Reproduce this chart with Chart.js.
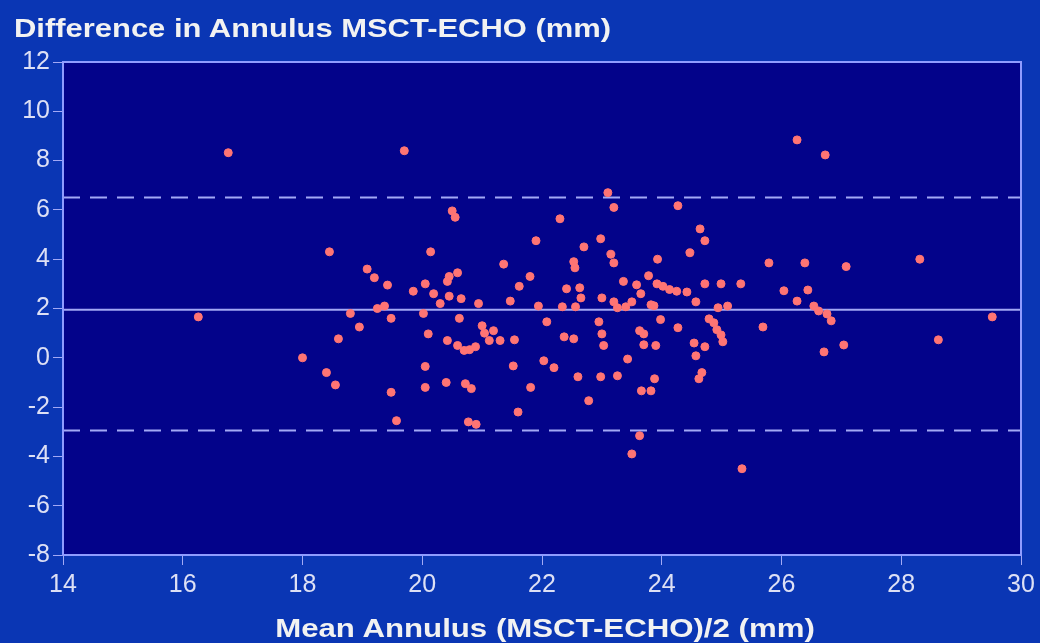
<!DOCTYPE html>
<html lang="en">
<head>
    <meta charset="UTF-8">
    <title>Difference in Annulus MSCT-ECHO</title>
    <script src="https://cdn.jsdelivr.net/npm/chart.js"></script>
    <style>
        body {
            margin: 0;
            background: #0a36b4;
        }
        #wrap {
            position: relative;
            width: 1040px;
            height: 643px;
        }
        .label {
            position: absolute;
            font-family: Arial, "Liberation Sans", sans-serif;
            font-weight: bold;
            font-size: 26px;
            line-height: 30px;
            color: #f2f2f2;
            white-space: nowrap;
        }
        #title {
            left: 14px;
            top: 13px;
            transform: scaleX(1.19);
            transform-origin: left center;
        }
        #xTitle {
            left: 545px;
            top: 613px;
            transform: translateX(-50%) scaleX(1.2);
        }
    </style>
</head>
<body>
    <div id="wrap">
        <canvas id="baChart"></canvas>
        <div id="title" class="label">Difference in Annulus MSCT-ECHO (mm)</div>
        <div id="xTitle" class="label">Mean Annulus (MSCT-ECHO)/2 (mm)</div>
    </div>

    <script>
        // mean annulus (x) and difference MSCT-ECHO (y)
        const meanAnnulus = [
            16.76, 19.70, 16.26, 18.45, 18.00, 18.40, 18.55, 18.60, 18.80, 18.95,
            19.08, 19.20, 19.25, 19.37, 19.42, 19.48, 19.48, 19.57, 19.85, 20.02,
            20.05, 20.14, 20.10, 20.05, 20.05, 20.19, 20.30, 20.42, 20.45, 20.50,
            20.55, 20.59, 20.45, 20.42, 20.40, 20.62, 20.65, 20.59, 20.70, 20.79,
            20.72, 20.82, 20.77, 20.90, 20.89, 20.94, 21.00, 21.04, 21.12, 21.19,
            21.30, 21.36, 21.47, 21.54, 21.52, 21.60, 21.62, 21.80, 21.81, 21.90,
            21.94, 22.03, 22.08, 22.20, 22.30, 22.34, 22.37, 22.41, 22.53, 22.55,
            22.56, 22.53, 22.60, 22.70, 22.65, 22.63, 22.78, 22.95, 22.98, 23.00,
            23.00, 23.03, 22.98, 23.10, 23.20, 23.15, 23.20, 23.20, 23.26, 23.26,
            23.40, 23.36, 23.43, 23.50, 23.50, 23.58, 23.63, 23.65, 23.63, 23.66,
            23.70, 23.70, 23.78, 23.82, 23.82, 23.88, 23.90, 23.87, 23.92, 23.93,
            23.98, 24.02, 24.13, 24.27, 24.25, 24.27, 24.42, 24.47, 24.57, 24.54,
            24.57, 24.62, 24.64, 24.67, 24.72, 24.72, 24.72, 24.79, 24.87, 24.94,
            24.92, 24.99, 25.02, 24.99, 25.10, 25.32, 25.34, 25.69, 25.79, 26.04,
            26.26, 26.26, 26.39, 26.44, 26.54, 26.62, 26.73, 26.71, 26.76, 26.83,
            27.08, 27.04, 28.31, 28.62, 29.52
        ];
        const difference = [
            8.32, 8.40, 1.66, 4.30, 0.00, -0.60, -1.10, 0.77, 1.80, 1.25,
            3.60, 3.25, 2.00, 2.10, 2.95, 1.60, -1.40, -2.55, 2.70, 1.80,
            3.00, 4.30, 0.97, -0.35, -1.20, 2.60, 2.20, 3.10, 3.30, 5.96,
            5.70, 3.45, 2.50, 0.70, -1.00, 1.60, 2.40, 0.50, 0.30, 0.33,
            -1.05, -1.25, -2.60, -2.70, 0.45, 2.20, 1.30, 1.00, 0.70, 1.10,
            0.70, 3.80, 2.30, 0.73, -0.33, -2.20, 2.90, 3.30, -1.20, 4.75,
            2.10, -0.12, 1.46, -0.40, 5.64, 2.07, 0.85, 2.80, 3.90, 3.65,
            2.07, 0.77, -0.77, 4.50, 2.43, 2.84, -1.74, 1.46, 4.83, 2.43,
            0.97, 0.50, -0.77, 6.70, 6.10, 4.20, 3.85, 2.27, 2.03, -0.73,
            2.07, 3.10, -0.05, 2.27, -3.90, 2.96, 1.10, 2.60, -3.16, -1.34,
            0.53, 0.97, 3.33, 2.15, -1.34, -0.85, 0.50, 2.11, 3.00, 4.00,
            1.55, 2.90, 2.77, 6.17, 2.70, 1.22, 2.67, 4.26, 2.27, 0.60,
            0.08, -0.85, 5.23, -0.60, 4.75, 3.00, 0.45, 1.58, 1.42, 2.03,
            1.14, 0.93, 0.65, 3.00, 2.10, 3.00, -4.50, 1.25, 3.85, 2.72,
            8.84, 2.30, 3.85, 2.75, 2.10, 1.90, 8.23, 0.24, 1.78, 1.50,
            3.70, 0.52, 4.00, 0.73, 1.66
        ];

        // mean difference and limits of agreement
        const meanDiff = 1.95;
        const upperLimit = 6.5;
        const lowerLimit = -2.95;

        const xRange = [14, 30];
        const yRange = [-8, 12];

        const tickFont = { family: 'Arial, "Liberation Sans", sans-serif', size: 25 };
        const lineColor = '#a3a9f5';

        function hLine(y) {
            return xRange.map((x) => ({ x: x, y: y }));
        }

        // 背景: 外側は青、プロット領域は濃紺
        const background = {
            id: 'background',
            beforeDraw(chart) {
                const { ctx, chartArea: a } = chart;
                ctx.save();
                ctx.fillStyle = '#0a36b4';
                ctx.fillRect(0, 0, chart.width, chart.height);
                ctx.fillStyle = '#03038a';
                ctx.fillRect(a.left, a.top, a.right - a.left, a.bottom - a.top);
                ctx.restore();
            },
            afterDraw(chart) {
                const { ctx, chartArea: a } = chart;
                ctx.save();
                ctx.strokeStyle = '#8f9cff';
                ctx.lineWidth = 2;
                ctx.strokeRect(a.left, a.top, a.right - a.left, a.bottom - a.top);
                ctx.restore();
            },
        };

        const ctx = document.getElementById('baChart').getContext('2d');
        new Chart(ctx, {
            type: 'scatter',
            data: {
                datasets: [
                    {
                        data: meanAnnulus.map((x, i) => ({ x: x, y: difference[i] })),
                        backgroundColor: '#ff7474',
                        borderColor: '#ff7474',
                        pointRadius: 4,
                        order: 1,
                    },
                    {
                        type: 'line',
                        data: hLine(meanDiff),
                        borderColor: lineColor,
                        borderWidth: 2,
                        pointRadius: 0,
                        order: 2,
                    },
                    {
                        type: 'line',
                        data: hLine(upperLimit),
                        borderColor: lineColor,
                        borderWidth: 2,
                        borderDash: [17, 10],
                        pointRadius: 0,
                        order: 2,
                    },
                    {
                        type: 'line',
                        data: hLine(lowerLimit),
                        borderColor: lineColor,
                        borderWidth: 2,
                        borderDash: [17, 10],
                        pointRadius: 0,
                        order: 2,
                    },
                ],
            },
            options: {
                responsive: true,
                maintainAspectRatio: false,
                animation: false,
                layout: {
                    padding: { top: 62, right: 19, left: 0, bottom: 0 },
                },
                plugins: {
                    legend: { display: false },
                    tooltip: { enabled: false },
                },
                scales: {
                    x: {
                        type: 'linear',
                        min: xRange[0],
                        max: xRange[1],
                        ticks: { stepSize: 2, color: '#dde0f5', font: tickFont, padding: 5 },
                        grid: { drawOnChartArea: false, color: lineColor, tickLength: 10 },
                        border: { color: '#8f9cff', width: 2 },
                        afterFit(scale) { scale.height = 88; },
                    },
                    y: {
                        min: yRange[0],
                        max: yRange[1],
                        ticks: { stepSize: 2, color: '#dde0f5', font: tickFont, padding: 3 },
                        grid: { drawOnChartArea: false, color: lineColor, tickLength: 10 },
                        border: { color: '#8f9cff', width: 2 },
                        afterFit(scale) { scale.width = 63; },
                    },
                },
            },
            plugins: [background],
        });
    </script>
</body>
</html>
